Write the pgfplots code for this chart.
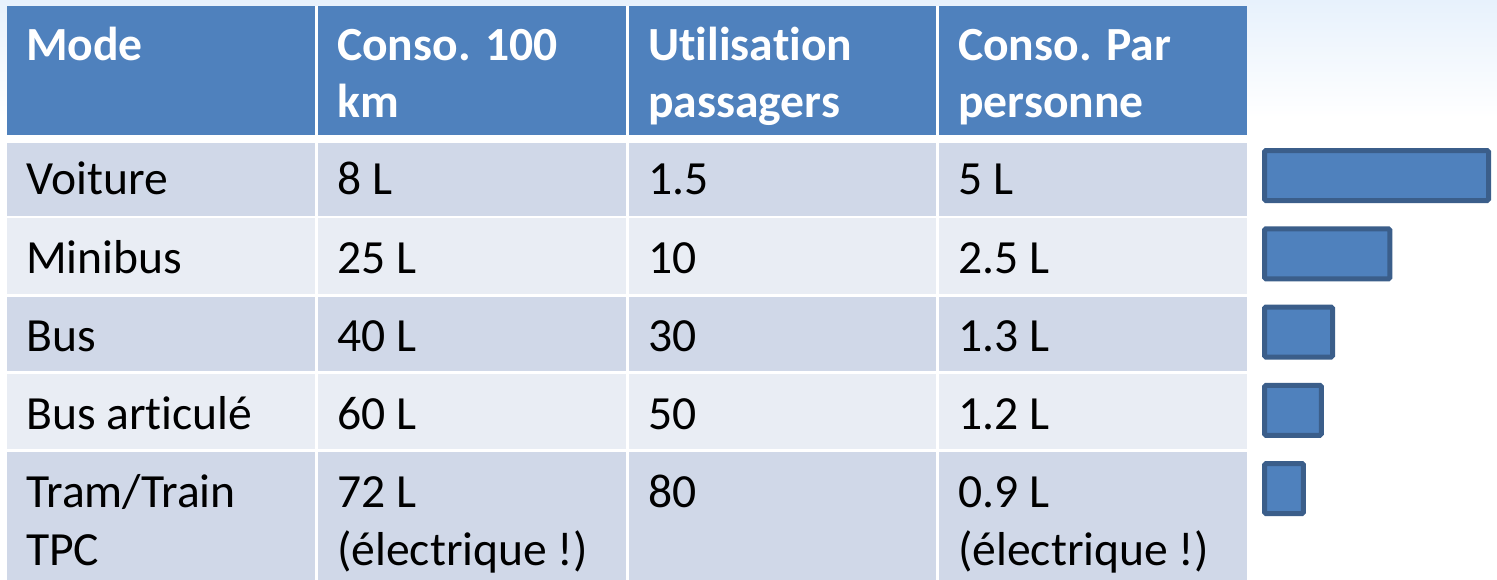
\documentclass[border=0pt]{standalone}
\usepackage{pgfplots}
\pgfplotsset{compat=1.18}
\usepackage{fontspec}
\setmainfont{Carlito}[Ligatures=NoCommon]
\definecolor{hdr}{HTML}{4F81BD}
\definecolor{rowdark}{HTML}{D0D8E8}
\definecolor{rowlight}{HTML}{E9EDF4}
\definecolor{bgtop}{HTML}{E7F1FC}
\definecolor{bardraw}{HTML}{3B5E8A}
\newcommand{\cellfont}{\fontsize{47.6}{58}\selectfont}
\begin{document}
\begin{tikzpicture}
\begin{axis}[name=main, at={(0,0)}, anchor=south west, scale only axis,
  width=1497pt, height=580pt, xmin=0, xmax=1497, ymin=0, ymax=580,
  y dir=reverse, hide axis, clip=false]
% background
\fill[white] (axis cs:0,0) rectangle (axis cs:1497,580);
\shade[top color=bgtop, bottom color=white] (axis cs:0,0) rectangle (axis cs:1497,118);
\fill[white] (axis cs:7,6) rectangle (axis cs:1247,580);
% header
\fill[hdr] (axis cs:7,6) rectangle (axis cs:315,135);
\fill[hdr] (axis cs:318,6) rectangle (axis cs:626,135);
\fill[hdr] (axis cs:629,6) rectangle (axis cs:936,135);
\fill[hdr] (axis cs:939,6) rectangle (axis cs:1247,135);
% rows
\fill[rowdark] (axis cs:7,143) rectangle (axis cs:315,216);
\fill[rowdark] (axis cs:318,143) rectangle (axis cs:626,216);
\fill[rowdark] (axis cs:629,143) rectangle (axis cs:936,216);
\fill[rowdark] (axis cs:939,143) rectangle (axis cs:1247,216);
\fill[rowlight] (axis cs:7,218) rectangle (axis cs:315,294);
\fill[rowlight] (axis cs:318,218) rectangle (axis cs:626,294);
\fill[rowlight] (axis cs:629,218) rectangle (axis cs:936,294);
\fill[rowlight] (axis cs:939,218) rectangle (axis cs:1247,294);
\fill[rowdark] (axis cs:7,297) rectangle (axis cs:315,371);
\fill[rowdark] (axis cs:318,297) rectangle (axis cs:626,371);
\fill[rowdark] (axis cs:629,297) rectangle (axis cs:936,371);
\fill[rowdark] (axis cs:939,297) rectangle (axis cs:1247,371);
\fill[rowlight] (axis cs:7,374) rectangle (axis cs:315,449);
\fill[rowlight] (axis cs:318,374) rectangle (axis cs:626,449);
\fill[rowlight] (axis cs:629,374) rectangle (axis cs:936,449);
\fill[rowlight] (axis cs:939,374) rectangle (axis cs:1247,449);
\fill[rowdark] (axis cs:7,452) rectangle (axis cs:315,580);
\fill[rowdark] (axis cs:318,452) rectangle (axis cs:626,580);
\fill[rowdark] (axis cs:629,452) rectangle (axis cs:936,580);
\fill[rowdark] (axis cs:939,452) rectangle (axis cs:1247,580);
% header text
\node[anchor=base west, inner sep=0pt, text=white, font=\cellfont\bfseries] at (axis cs:26,61) {Mode};
\node[anchor=base west, inner sep=0pt, text=white, font=\cellfont\bfseries] at (axis cs:337,61) {Conso. 100};
\node[anchor=base west, inner sep=0pt, text=white, font=\cellfont\bfseries] at (axis cs:337,118) {km};
\node[anchor=base west, inner sep=0pt, text=white, font=\cellfont\bfseries] at (axis cs:648,61) {Utilisation};
\node[anchor=base west, inner sep=0pt, text=white, font=\cellfont\bfseries] at (axis cs:648,118) {passagers};
\node[anchor=base west, inner sep=0pt, text=white, font=\cellfont\bfseries] at (axis cs:958,61) {Conso. Par};
\node[anchor=base west, inner sep=0pt, text=white, font=\cellfont\bfseries] at (axis cs:958,118) {personne};
% body text
\node[anchor=base west, inner sep=0pt, font=\cellfont] at (axis cs:26,195) {Voiture};
\node[anchor=base west, inner sep=0pt, font=\cellfont] at (axis cs:337,195) {8 L};
\node[anchor=base west, inner sep=0pt, font=\cellfont] at (axis cs:648,195) {1.5};
\node[anchor=base west, inner sep=0pt, font=\cellfont] at (axis cs:958,195) {5 L};
\node[anchor=base west, inner sep=0pt, font=\cellfont] at (axis cs:26,273) {Minibus};
\node[anchor=base west, inner sep=0pt, font=\cellfont] at (axis cs:337,273) {25 L};
\node[anchor=base west, inner sep=0pt, font=\cellfont] at (axis cs:648,273) {10};
\node[anchor=base west, inner sep=0pt, font=\cellfont] at (axis cs:958,273) {2.5 L};
\node[anchor=base west, inner sep=0pt, font=\cellfont] at (axis cs:26,351) {Bus};
\node[anchor=base west, inner sep=0pt, font=\cellfont] at (axis cs:337,351) {40 L};
\node[anchor=base west, inner sep=0pt, font=\cellfont] at (axis cs:648,351) {30};
\node[anchor=base west, inner sep=0pt, font=\cellfont] at (axis cs:958,351) {1.3 L};
\node[anchor=base west, inner sep=0pt, font=\cellfont] at (axis cs:26,429) {Bus articulé};
\node[anchor=base west, inner sep=0pt, font=\cellfont] at (axis cs:337,429) {60 L};
\node[anchor=base west, inner sep=0pt, font=\cellfont] at (axis cs:648,429) {50};
\node[anchor=base west, inner sep=0pt, font=\cellfont] at (axis cs:958,429) {1.2 L};
\node[anchor=base west, inner sep=0pt, font=\cellfont] at (axis cs:26,507) {Tram/Train};
\node[anchor=base west, inner sep=0pt, font=\cellfont] at (axis cs:26,565) {TPC};
\node[anchor=base west, inner sep=0pt, font=\cellfont] at (axis cs:337,507) {72 L};
\node[anchor=base west, inner sep=0pt, font=\cellfont] at (axis cs:337,565) {(électrique !)};
\node[anchor=base west, inner sep=0pt, font=\cellfont] at (axis cs:648,507) {80};
\node[anchor=base west, inner sep=0pt, font=\cellfont] at (axis cs:958,507) {0.9 L};
\node[anchor=base west, inner sep=0pt, font=\cellfont] at (axis cs:958,565) {(électrique !)};
\end{axis}
\begin{axis}[at={(1264.5pt,0pt)}, anchor=south west, scale only axis,
  width=224pt, height=580pt, xmin=0, xmax=5, ymin=-1.243, ymax=6.169,
  y dir=reverse, hide axis, clip=false, xbar, bar width=50pt, bar shift=0pt]
\addplot[fill=hdr, draw=bardraw, line width=5pt, rounded corners=1.5pt]
  coordinates {(5,1) (2.8,2) (1.52,3) (1.27,4) (0.87,5)};
\end{axis}
\pgfresetboundingbox
\path[use as bounding box] (0,0) rectangle (1497pt,580pt);
\end{tikzpicture}
\end{document}
